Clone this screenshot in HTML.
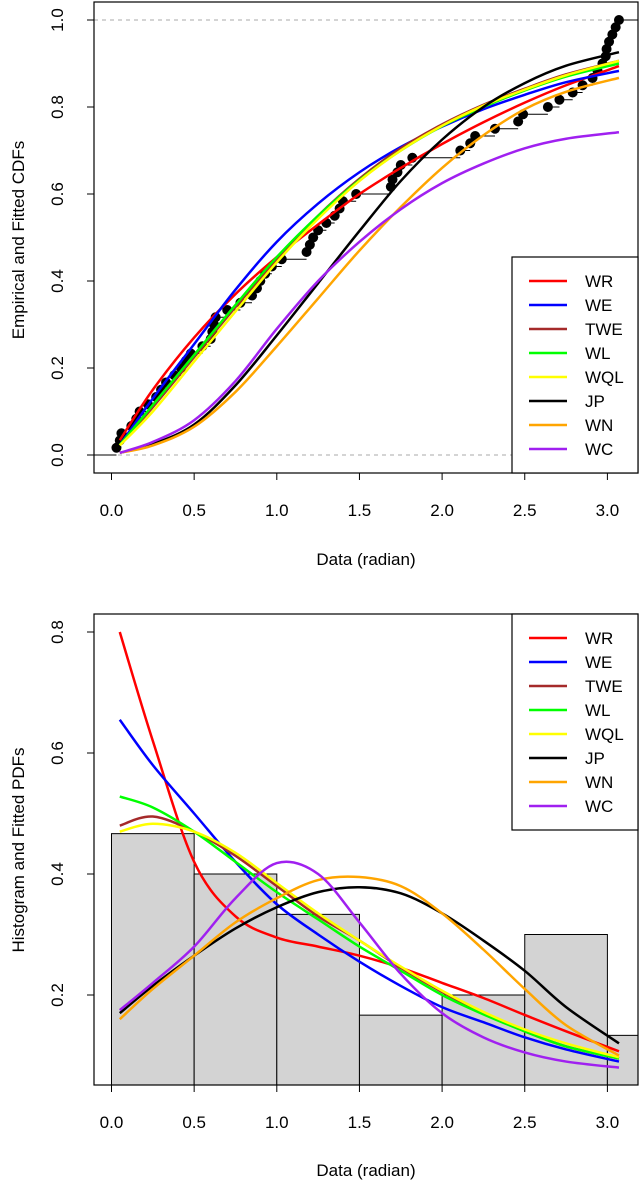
<!DOCTYPE html>
<html><head><meta charset="utf-8"><style>
html,body{margin:0;padding:0;background:#fff;}
svg{display:block;font-family:"Liberation Sans",Arial,sans-serif;}
</style></head><body>
<svg id="chart" width="641" height="1183" viewBox="0 0 641 1183" xmlns="http://www.w3.org/2000/svg"></svg>
<script>
const xGrid = [0.05,0.25,0.5,0.75,1.0,1.25,1.5,1.75,2.0,2.25,2.5,2.75,3.07];
const seriesNames = ["WR","WE","TWE","WL","WQL","JP","WN","WC"];
const seriesColors = ["#ff0000","#0000ff","#a52a2a","#00ff00","#ffff00","#000000","#ffa500","#a020f0"];
const cdfWR  = [.034,.15,.27,.37,.455,.53,.60,.66,.715,.765,.81,.85,.894];
const cdfWE  = [.023,.13,.255,.38,.49,.578,.65,.708,.755,.795,.828,.857,.883];
const cdfTWE = [.023,.11,.225,.34,.45,.55,.635,.705,.76,.805,.842,.875,.906];
const cdfWL  = [.023,.115,.23,.345,.455,.55,.632,.70,.756,.80,.838,.87,.90];
const cdfWQL = [.022,.10,.215,.33,.443,.543,.63,.70,.757,.803,.84,.873,.906];
const cdfJP  = [.005,.025,.07,.16,.275,.395,.515,.63,.725,.80,.855,.895,.926];
const cdfWN  = [.005,.022,.065,.145,.25,.36,.47,.57,.66,.735,.795,.835,.867];
const cdfWC  = [.005,.03,.08,.17,.29,.40,.49,.565,.625,.67,.705,.727,.742];
const pdfWR  = [0.80,0.62,0.42,0.33,0.295,0.28,0.265,0.245,0.22,0.195,0.167,0.14,0.107];
const pdfWE  = [0.655,0.58,0.50,0.42,0.35,0.30,0.255,0.215,0.18,0.155,0.13,0.11,0.09];
const pdfTWE = [0.48,0.495,0.47,0.43,0.38,0.33,0.29,0.245,0.205,0.17,0.14,0.115,0.095];
const pdfWL  = [0.528,0.51,0.47,0.42,0.37,0.325,0.28,0.24,0.20,0.168,0.14,0.115,0.095];
const pdfWQL = [0.47,0.483,0.47,0.435,0.385,0.335,0.29,0.247,0.207,0.172,0.143,0.12,0.097];
const pdfJP  = [0.17,0.215,0.265,0.31,0.345,0.37,0.378,0.368,0.335,0.29,0.24,0.18,0.12];
const pdfWN  = [0.16,0.21,0.265,0.32,0.36,0.39,0.395,0.38,0.335,0.275,0.21,0.15,0.10];
const pdfWC  = [0.175,0.22,0.28,0.36,0.418,0.40,0.32,0.235,0.17,0.13,0.105,0.09,0.08];
const obsData = [0.03,0.05,0.06,0.12,0.15,0.17,0.22,0.27,0.30,0.33,0.38,0.42,0.45,0.48,
 0.55,0.60,0.61,0.62,0.63,0.70,0.78,0.85,0.88,0.90,0.93,0.97,
 1.03,1.18,1.20,1.22,1.25,1.30,1.35,1.38,1.40,1.48,
 1.69,1.70,1.73,1.75,1.82,
 2.11,2.17,2.20,2.32,2.46,2.49,
 2.64,2.71,2.79,2.85,2.91,2.94,2.97,2.99,2.995,
 3.01,3.03,3.05,3.07];
const histBreaks = [0,0.5,1.0,1.5,2.0,2.5,3.0,3.5];
const histDensity = [0.4667,0.4,0.3333,0.1667,0.2,0.3,0.1333];
const xTicks = [0,0.5,1.0,1.5,2.0,2.5,3.0];
const xTickLabels = ["0.0","0.5","1.0","1.5","2.0","2.5","3.0"];
const cdfTicks = [0,0.2,0.4,0.6,0.8,1.0];
const cdfTickLabels = ["0.0","0.2","0.4","0.6","0.8","1.0"];
const pdfTicks = [0.2,0.4,0.6,0.8];
const pdfTickLabels = ["0.2","0.4","0.6","0.8"];

const NS="http://www.w3.org/2000/svg";
const svg=document.getElementById('chart');
function mk(tag,attrs,parent){const e=document.createElementNS(NS,tag);for(const k in attrs)e.setAttribute(k,attrs[k]);(parent||svg).appendChild(e);return e;}
const X0=94,X1=638,FS=17;
const xs=v=>111.5+v*165.3;
const yC=v=>455-v*435;
const yP=v=>995-(v-0.2)*605;
function smooth(pts){let d="M"+pts[0][0].toFixed(2)+","+pts[0][1].toFixed(2);
 for(let i=0;i<pts.length-1;i++){const p0=pts[Math.max(i-1,0)],p1=pts[i],p2=pts[i+1],p3=pts[Math.min(i+2,pts.length-1)];
  const c1=[p1[0]+(p2[0]-p0[0])/6,p1[1]+(p2[1]-p0[1])/6],c2=[p2[0]-(p3[0]-p1[0])/6,p2[1]-(p3[1]-p1[1])/6];
  d+=" C"+c1[0].toFixed(2)+","+c1[1].toFixed(2)+" "+c2[0].toFixed(2)+","+c2[1].toFixed(2)+" "+p2[0].toFixed(2)+","+p2[1].toFixed(2);}
 return d;}
const defs=mk('defs',{});
const cp1=mk('clipPath',{id:'clipTop'},defs);mk('rect',{x:X0,y:2,width:X1-X0,height:471},cp1);
const cp2=mk('clipPath',{id:'clipBot'},defs);mk('rect',{x:X0,y:614,width:X1-X0,height:471},cp2);

function axes(top,bottom,yTicks,yLabels,yFn,yTitle,yTitleCenter,xTitleY,prefix){
 const g=mk('g',{});
 
 
 xTicks.forEach((t,i)=>{
  const l=mk('line',{x1:xs(t),x2:xs(t),y1:bottom,y2:bottom+7,stroke:'#000','stroke-width':1},g);
  
  
  const tx=mk('text',{x:xs(t),y:bottom+43,'font-size':FS,'text-anchor':'middle'},g);
  tx.textContent=xTickLabels[i];
  
  
 });
 yTicks.forEach((t,i)=>{
  const y=yFn(t);
  const l=mk('line',{x1:X0-7,x2:X0,y1:y,y2:y,stroke:'#000','stroke-width':1},g);
  
  
  const tx=mk('text',{x:0,y:0,'font-size':FS,'text-anchor':'middle',transform:`translate(63,${y}) rotate(-90)`},g);
  tx.textContent=yLabels[i];
  
  
 });
 const xt=mk('text',{x:366,y:xTitleY,'font-size':FS,'text-anchor':'middle'},g);
 xt.textContent='Data (radian)';
 
 
 const yt=mk('text',{x:0,y:0,'font-size':FS,'text-anchor':'middle',transform:`translate(24,${yTitleCenter}) rotate(-90)`},g);
 yt.textContent=yTitle;
 
 
}
function legend(top,bottom,prefix){
 const g=mk('g',{});
 
 
 mk('rect',{x:512,y:top,width:X1-512,height:bottom-top,fill:'#fff',stroke:'#000','stroke-width':1.2},g);
 seriesNames.forEach((n,i)=>{
  const y=top+24+24*i;
  const e=mk('g',{},g);
  
  
  mk('line',{x1:529,x2:567,y1:y,y2:y,stroke:seriesColors[i],'stroke-width':2.5},e);
  const t=mk('text',{x:585,y:y+6,'font-size':FS},e);
  t.textContent=n;
 });
}

// ---------- TOP: CDFs ----------
const topG=mk('g',{'clip-path':'url(#clipTop)'});


[0,1].forEach(v=>{const l=mk('line',{x1:X0,x2:X1,y1:yC(v),y2:yC(v),stroke:'#aaa','stroke-width':1,'stroke-dasharray':'4,4'},topG);
 
 });
const ecdf=mk('g',{},topG);


mk('line',{x1:X0-10,x2:xs(obsData[0]),y1:yC(0),y2:yC(0),stroke:'#000','stroke-width':1},ecdf);
const n=obsData.length;
obsData.forEach((v,i)=>{
 const next=i<n-1?obsData[i+1]:v+0.5;
 const y=yC((i+1)/n);
 const l=mk('line',{x1:xs(v),x2:xs(next),y1:y,y2:y,stroke:'#000','stroke-width':1},ecdf);
 
 
 const c=mk('circle',{cx:xs(v),cy:y,r:5,fill:'#000'},ecdf);
 
 
});
const cdfs=[cdfWR,cdfWE,cdfTWE,cdfWL,cdfWQL,cdfJP,cdfWN,cdfWC];
cdfs.forEach((arr,k)=>{
 const p=mk('path',{d:smooth(xGrid.map((x,i)=>[xs(x),yC(arr[i])])),fill:'none',stroke:seriesColors[k],'stroke-width':2.5},topG);
 
 
});
const box1=mk('rect',{x:X0,y:2,width:X1-X0,height:471,fill:'none',stroke:'#000','stroke-width':1.2});


legend(257,473,'cdf');
axes(2,473,cdfTicks,cdfTickLabels,yC,'Empirical and Fitted CDFs',240,565,'cdf');

// ---------- BOTTOM: PDFs ----------
const botG=mk('g',{'clip-path':'url(#clipBot)'});


histDensity.forEach((d,i)=>{
 const r=mk('rect',{x:xs(histBreaks[i]),y:yP(d),width:xs(histBreaks[i+1])-xs(histBreaks[i]),height:yP(0)-yP(d),fill:'#d3d3d3',stroke:'#000','stroke-width':1},botG);
 
 
});
const pdfs=[pdfWR,pdfWE,pdfTWE,pdfWL,pdfWQL,pdfJP,pdfWN,pdfWC];
pdfs.forEach((arr,k)=>{
 const p=mk('path',{d:smooth(xGrid.map((x,i)=>[xs(x),yP(arr[i])])),fill:'none',stroke:seriesColors[k],'stroke-width':2.5},botG);
 
 
});
const box2=mk('rect',{x:X0,y:614,width:X1-X0,height:471,fill:'none',stroke:'#000','stroke-width':1.2});


legend(614,830,'pdf');
axes(614,1085,pdfTicks,pdfTickLabels,yP,'Histogram and Fitted PDFs',850,1176,'pdf');
</script>
</body></html>
